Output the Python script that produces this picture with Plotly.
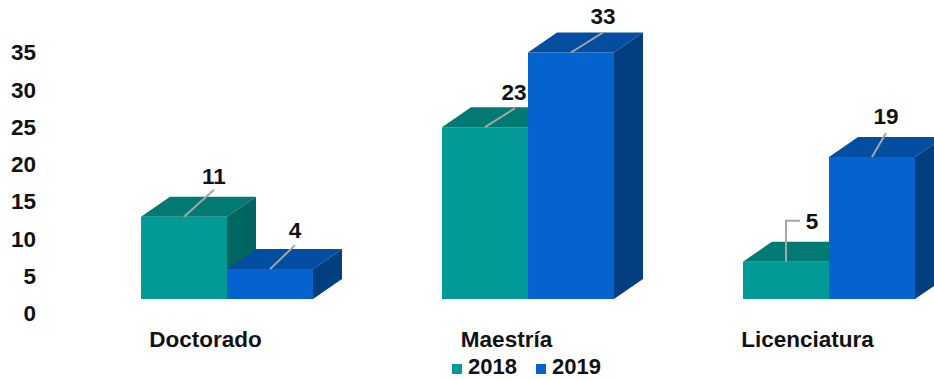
import plotly.graph_objects as go

# Chart data
categories = ["Doctorado", "Maestría", "Licenciatura"]
series_names = ["2018", "2019"]
values_2018 = [11, 23, 5]
values_2019 = [4, 33, 19]
tick_values = [0, 5, 10, 15, 20, 25, 30, 35]

# Canvas and scale
W, H = 934, 379
PX_PER_GROUP = 301.0
PX_PER_UNIT = 7.47
GROUP0_PX = 227.0
BASE_PX = 299.0
TICK_BASE_PX = 313.5
BAR_W = 86.0 / PX_PER_GROUP
DEPTH_X = 29.0 / PX_PER_GROUP
DEPTH_Y = 20.0 / PX_PER_UNIT
dx = 1.0 / PX_PER_GROUP
dy = 1.0 / PX_PER_UNIT

FONT = "Liberation Sans, Arial, sans-serif"
FONT_SIZE = 22.5
LEGEND_FONT_SIZE = 22
TEXT = "#111111"
LEADER = "#a6a6a6"

STYLES = {
    "2018": dict(front="#029a96", top="#007a72", side="#00665f", left=-BAR_W, y="y"),
    "2019": dict(front="#0563cf", top="#034ea0", side="#023f80", left=0.0, y="y2"),
}

# Leader routes from each bar's top edge, in pixels relative to the bar centre
LEADERS = {
    "2018": [[(0, 0), (30, 27)], [(0, 0), (30, 19)], [(0, 0), (0, 41), (14, 41)]],
    "2019": [[(0, 0), (25, 24)], [(0, 0), (32, 20)], [(0, 0), (14, 24)]],
}
LABEL_OFFSET = {
    "2018": [(30, 38), (29, 33), (26, 38)],
    "2019": [(25, 37), (32, 34), (14, 39)],
}

fig = go.Figure()


def add_series(name, values):
    st = STYLES[name]
    xs = list(range(len(categories)))
    fig.add_trace(go.Bar(
        x=xs, y=values, width=BAR_W, offset=st["left"], name=name,
        marker=dict(color=st["front"], line=dict(width=0)),
        yaxis=st["y"], xaxis="x", showlegend=False, hoverinfo="skip",
    ))
    for i, v in enumerate(values):
        x0 = i + st["left"]
        x1 = x0 + BAR_W
        fig.add_trace(go.Scatter(
            x=[x0, x1, x1 + DEPTH_X, x0 + DEPTH_X, x0],
            y=[v, v, v + DEPTH_Y, v + DEPTH_Y, v],
            mode="lines", fill="toself", fillcolor=st["top"], line=dict(width=0),
            yaxis=st["y"], showlegend=False, hoverinfo="skip",
        ))
        fig.add_trace(go.Scatter(
            x=[x1, x1 + DEPTH_X, x1 + DEPTH_X, x1, x1],
            y=[0, DEPTH_Y, v + DEPTH_Y, v, 0],
            mode="lines", fill="toself", fillcolor=st["side"], line=dict(width=0),
            yaxis=st["y"], showlegend=False, hoverinfo="skip",
        ))
    for i, v in enumerate(values):
        cx = i + st["left"] + BAR_W / 2
        route = LEADERS[name][i]
        fig.add_trace(go.Scatter(
            x=[cx + p[0] * dx for p in route],
            y=[v + p[1] * dy for p in route],
            mode="lines", line=dict(color=LEADER, width=2),
            yaxis=st["y"], showlegend=False, hoverinfo="skip",
        ))
        ox, oy = LABEL_OFFSET[name][i]
        fig.add_trace(go.Scatter(
            x=[cx + ox * dx], y=[v + oy * dy], text=[str(v)],
            mode="text", textposition="middle center",
            textfont=dict(family=FONT, size=FONT_SIZE, color=TEXT, weight="bold"),
            yaxis=st["y"], showlegend=False, hoverinfo="skip", cliponaxis=False,
        ))


add_series("2018", values_2018)
add_series("2019", values_2019)

# Carrier trace for the value axis, set lower than the bars' baseline
fig.add_trace(go.Scatter(x=[0], y=[0], mode="none", yaxis="y3",
                         showlegend=False, hoverinfo="skip"))

bar_range = [-(H - BASE_PX) / PX_PER_UNIT, BASE_PX / PX_PER_UNIT]
tick_range = [-(H - TICK_BASE_PX) / 7.46, TICK_BASE_PX / 7.46]
hidden = dict(showgrid=False, zeroline=False, showline=False, ticks="",
              showticklabels=False, fixedrange=True)

# Legend row under the axis labels; the text box stays inside the page edge
shapes = []
annotations = []
for name, sx, tx in zip(series_names, [452, 536], [468, 552]):
    shapes.append(dict(type="rect", xref="paper", yref="paper", layer="above",
                       x0=sx / W, x1=(sx + 10) / W,
                       y0=1 - 374 / H, y1=1 - 364 / H,
                       fillcolor=STYLES[name]["front"], line=dict(width=0)))
    annotations.append(dict(xref="paper", yref="paper", x=tx / W, y=1 - 366.5 / H,
                            xanchor="left", yanchor="middle", showarrow=False,
                            text=name, xshift=-1, borderpad=0,
                            font=dict(family=FONT, size=LEGEND_FONT_SIZE, color=TEXT, weight="bold")))

fig.update_layout(
    width=W, height=H, autosize=False,
    margin=dict(l=0, r=0, t=0, b=0),
    paper_bgcolor="white", plot_bgcolor="white",
    barmode="overlay", showlegend=False, shapes=shapes, annotations=annotations,
    xaxis=dict(
        range=[-GROUP0_PX / PX_PER_GROUP, (W - GROUP0_PX) / PX_PER_GROUP],
        domain=[0, 1], anchor="free", position=1 - 323 / H,
        tickmode="array", tickvals=[i - 21.5 * dx for i in range(len(categories))],
        ticktext=categories, ticks="", showgrid=False, zeroline=False, showline=False,
        tickfont=dict(family=FONT, size=FONT_SIZE, color=TEXT, weight="bold"), fixedrange=True,
    ),
    yaxis=dict(range=bar_range, domain=[0, 1], **hidden),
    yaxis2=dict(range=bar_range, overlaying="y", **hidden),
    yaxis3=dict(
        range=tick_range, overlaying="y", anchor="free", position=36 / W, side="left",
        tickmode="array", tickvals=tick_values, ticks="", showgrid=False,
        zeroline=False, showline=False, fixedrange=True,
        tickfont=dict(family=FONT, size=FONT_SIZE, color=TEXT, weight="bold"),
    ),
)

fig.write_html("out.html", config=dict(displayModeBar=False))
